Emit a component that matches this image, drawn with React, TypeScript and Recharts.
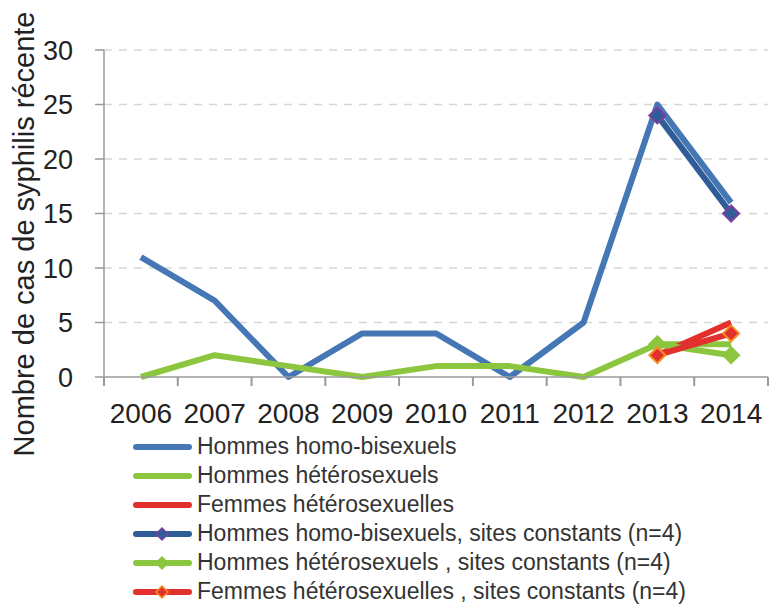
import { CartesianGrid, Line, LineChart, XAxis, YAxis } from "recharts";

const years = ["2006", "2007", "2008", "2009", "2010", "2011", "2012", "2013", "2014"];
const homoBi = [11, 7, 0, 4, 4, 0, 5, 25, 16];
const hetero = [0, 2, 1, 0, 1, 1, 0, 3, 3];
const femmes = [null, null, null, null, null, null, null, 2, 5];
const homoBiConst = [null, null, null, null, null, null, null, 24, 15];
const heteroConst = [null, null, null, null, null, null, null, 3, 2];
const femmesConst = [null, null, null, null, null, null, null, 2, 4];
const yTicks = [0, 5, 10, 15, 20, 25, 30];

const data = years.map((y, i) => ({
  year: y,
  homoBi: homoBi[i],
  hetero: hetero[i],
  femmes: femmes[i],
  homoBiConst: homoBiConst[i],
  heteroConst: heteroConst[i],
  femmesConst: femmesConst[i],
}));

const BLUE = "#4577b4";
const GREEN = "#8cc63e";
const RED = "#e2302e";
const DARK_BLUE = "#2e5d97";
const AXIS = "#9a9a9a";
const FONT = "'Liberation Sans', Arial, sans-serif";

const series = [
  { key: "homoBi", name: "Hommes homo-bisexuels", color: BLUE },
  { key: "hetero", name: "Hommes hétérosexuels", color: GREEN },
  { key: "femmes", name: "Femmes hétérosexuelles", color: RED },
  { key: "homoBiConst", name: "Hommes homo-bisexuels, sites constants (n=4)", color: DARK_BLUE, marker: { fill: DARK_BLUE, stroke: "#7b3fa2" } },
  { key: "heteroConst", name: "Hommes hétérosexuels , sites constants (n=4)", color: GREEN, marker: { fill: GREEN, stroke: GREEN } },
  { key: "femmesConst", name: "Femmes hétérosexuelles , sites constants (n=4)", color: RED, marker: { fill: RED, stroke: "#f39020" } },
];

const diamond = (cx: number, cy: number, r: number) =>
  `M${cx},${cy - r} L${cx + r},${cy} L${cx},${cy + r} L${cx - r},${cy} Z`;

function makeDot(m: { fill: string; stroke: string }) {
  return (p: any) => {
    if (p.cy == null || p.value == null) return <g key={p.index} />;
    return <path key={p.index} d={diamond(p.cx, p.cy, 8)} fill={m.fill} stroke={m.stroke} strokeWidth={2} />;
  };
}

const LABEL_GAP = 26;

// category tick: label centered, tick mark on the band boundaries
function YearTick(props: any) {
  const { x, y, payload, index } = props;
  const half = payload?.offset || 37;
  const axisY = y - LABEL_GAP;
  return (
    <g>
      <line x1={x - half} x2={x - half} y1={axisY} y2={axisY + 9} stroke={AXIS} strokeWidth={2} />
      {index === years.length - 1 && (
        <line x1={x + half} x2={x + half} y1={axisY} y2={axisY + 9} stroke={AXIS} strokeWidth={2} />
      )}
      <text x={x} y={y} dy="0.71em" textAnchor="middle" fontSize={28} fill="#222" fontFamily={FONT}>
        {payload.value}
      </text>
    </g>
  );
}

function Legend() {
  return (
    <div style={{ position: "absolute", left: 130, top: 432, fontFamily: FONT, fontSize: 23, color: "#333" }}>
      {series.map((s) => (
        <div key={s.key} style={{ display: "flex", alignItems: "center", height: 29 }}>
          <svg width={66} height={20} style={{ marginRight: 1 }}>
            <line x1={6} x2={59} y1={10} y2={10} stroke={s.color} strokeWidth={6} strokeLinecap="round" />
            {s.marker && <path d={diamond(32, 10, 6)} fill={s.marker.fill} stroke={s.marker.stroke} strokeWidth={1.5} />}
          </svg>
          <span style={{ whiteSpace: "nowrap" }}>{s.name}</span>
        </div>
      ))}
    </div>
  );
}

export default function App() {
  return (
    <div style={{ position: "absolute", left: 0, top: 0, width: 772, height: 604, background: "#fff" }}>
      <LineChart width={772} height={460} data={data} margin={{ top: 50, right: 4, left: 0, bottom: 33 }}>
        <CartesianGrid horizontal vertical={false} stroke="#d6d6d6" strokeWidth={1.5} strokeDasharray="8 7"
          horizontalValues={[5, 10, 15, 20, 25, 30]} />
        <XAxis dataKey="year" scale="band" height={50} axisLine={{ stroke: AXIS, strokeWidth: 1.5 }} tickLine={false}
          tickSize={0} tickMargin={LABEL_GAP} interval={0} tick={<YearTick />} />
        <YAxis width={104} domain={[0, 30]} ticks={yTicks} interval={0}
          axisLine={{ stroke: AXIS, strokeWidth: 1.5 }} tickLine={{ stroke: AXIS, strokeWidth: 1.5 }}
          tickSize={9} tickMargin={22}
          tick={{ fontSize: 27, fill: "#222", fontFamily: FONT }}
          label={{
            content: () => (
              <text x={0} y={0} transform="translate(34,234) rotate(-90)" textAnchor="middle"
                fontSize={29} fill="#222" fontFamily={FONT}>
                Nombre de cas de syphilis récente
              </text>
            ),
          }} />
        {series.map((s) => (
          <Line key={s.key} dataKey={s.key} name={s.name} stroke={s.color} strokeWidth={6}
            dot={s.marker ? makeDot(s.marker) : false} activeDot={false}
            isAnimationActive={false} strokeLinejoin="round" />
        ))}
      </LineChart>
      <Legend />
    </div>
  );
}
